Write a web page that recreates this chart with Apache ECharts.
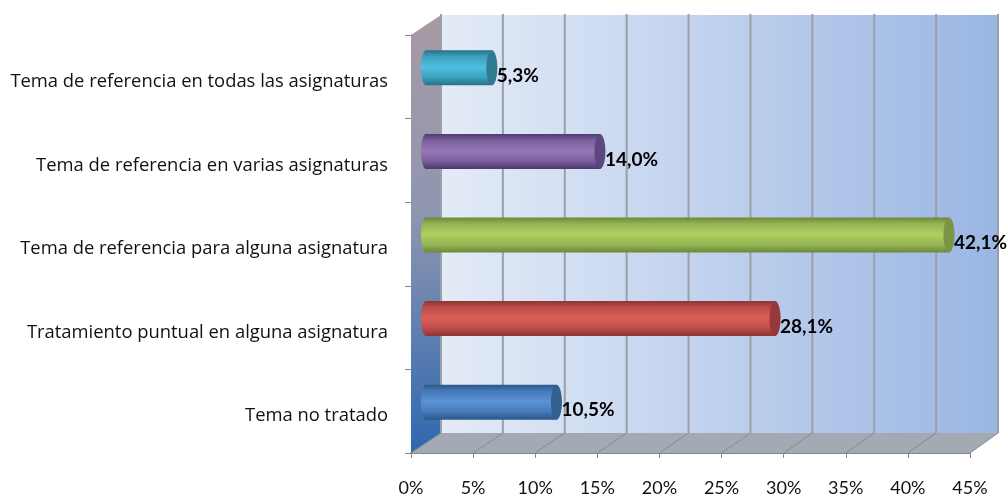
<!DOCTYPE html>
<html>
<head>
<meta charset="utf-8">
<style>
  html, body { margin: 0; padding: 0; background: #fff; }
  #chart { width: 1008px; height: 496px; }
</style>
<script src="https://cdn.jsdelivr.net/npm/echarts@6/dist/echarts.min.js"></script>
</head>
<body>
<div id="chart"></div>
<script>
var categories = ['Tema no tratado', 'Tratamiento puntual en alguna asignatura', 'Tema de referencia para alguna asignatura', 'Tema de referencia en varias asignaturas', 'Tema de referencia en todas las asignaturas'];
var values = [10.5, 28.1, 42.1, 14.0, 5.3];
var xTicks = [0, 5, 10, 15, 20, 25, 30, 35, 40, 45];

// edge, middle, shoulder, cap
var barColors = [
  ['#2b5688', '#5b93d8', '#4579b8', '#33608f'],
  ['#8c3634', '#dc5f5b', '#bd4b48', '#96393a'],
  ['#6d8837', '#b0d060', '#94b354', '#7a9644'],
  ['#4f3870', '#9678b8', '#7a5f9b', '#5e4680'],
  ['#277189', '#50c0e0', '#3ca0be', '#2f7c92']
];

var depthX = 30, depthY = 20, barR = 17.5, capR = 5;

function vGrad(stops) {
  return new echarts.graphic.LinearGradient(0, 0, 0, 1, stops);
}

function renderRoom(params, api) {
  var cs = params.coordSys;
  var left = cs.x, right = cs.x + cs.width, top = cs.y, bottom = cs.y + cs.height;
  var kids = [];
  function backX(v) { return api.coord([v, 0])[0] + depthX - v * 2 / 45; }
  var bl = backX(0), br = backX(45);
  kids.push({ type: 'rect', shape: { x: bl, y: top - depthY, width: br - bl, height: cs.height },
    style: { fill: new echarts.graphic.LinearGradient(0, 0, 1, 0, [{ offset: 0, color: '#e4ebf7' }, { offset: 1, color: '#9ab6e3' }]) } });
  kids.push({ type: 'polygon', shape: { points: [[left, bottom], [right, bottom], [br, bottom - depthY], [bl, bottom - depthY]] },
    style: { fill: '#a4aab4' } });
  kids.push({ type: 'polygon', shape: { points: [[left, top], [bl, top - depthY], [bl, bottom - depthY], [left, bottom]] },
    style: { fill: vGrad([{ offset: 0, color: '#a89aa4' }, { offset: 0.45, color: '#8f96b0' }, { offset: 1, color: '#2f68b0' }]) } });
  xTicks.forEach(function (v) {
    var fx = api.coord([v, 0])[0], bx = backX(v);
    kids.push({ type: 'line', shape: { x1: bx, y1: top - depthY - 1, x2: bx, y2: bottom - depthY },
      style: { stroke: '#9b9fa8', lineWidth: 2 } });
    kids.push({ type: 'line', shape: { x1: fx, y1: bottom, x2: bx, y2: bottom - depthY },
      style: { stroke: '#868b94', lineWidth: 1 } });
  });
  return { type: 'group', children: kids };
}

function renderBar(params, api) {
  var v = api.value(0), i = api.value(1);
  var start = api.coord([0, i]), end = api.coord([v, i]);
  var cy = start[1] - depthY / 2 + 1;
  var x0 = start[0] + depthX / 2, x1 = end[0] + depthX / 2;
  var c = barColors[i];
  var fill = vGrad([{ offset: 0, color: c[0] }, { offset: 0.18, color: c[2] }, { offset: 0.48, color: c[1] }, { offset: 0.78, color: c[2] }, { offset: 1, color: c[0] }]);
  return { type: 'group', children: [
    { type: 'ellipse', shape: { cx: x0, cy: cy, rx: capR, ry: barR }, style: { fill: fill } },
    { type: 'rect', shape: { x: x0, y: cy - barR, width: x1 - x0, height: barR * 2 }, style: { fill: fill } },
    { type: 'ellipse', shape: { cx: x1, cy: cy, rx: capR + 0.5, ry: barR }, style: { fill: c[3] } },
    { type: 'text', x: x1 + capR, y: cy + 8, style: { text: v.toFixed(1).replace('.', ',') + '%',
      font: 'bold 19px Lato', fill: '#000', verticalAlign: 'middle', align: 'left' } }
  ] };
}

var chart = echarts.init(document.getElementById('chart'), null, { renderer: 'canvas' });
chart.setOption({
  animation: false,
  backgroundColor: '#fff',
  grid: { left: 411, right: 38, top: 35, bottom: 43, containLabel: false, outerBoundsMode: 'none' },
  xAxis: {
    type: 'value', min: 0, max: 45, interval: 5,
    splitLine: { show: false },
    axisLine: { show: true, lineStyle: { color: '#868686', width: 2 } },
    axisTick: { show: true, length: 5, lineStyle: { color: '#868686' } },
    axisLabel: { formatter: '{value}%', margin: 26, color: '#111', fontFamily: 'Lato', fontSize: 18 }
  },
  yAxis: {
    type: 'category', data: categories,
    axisLine: { show: true, lineStyle: { color: '#868686' } },
    axisTick: { show: true, length: 6, lineStyle: { color: '#868686' } },
    axisLabel: { interval: 0, margin: 23, verticalAlign: 'top', lineHeight: 10, color: '#111', fontFamily: 'Open Sans', fontSize: 18.4 }
  },
  series: [
    { type: 'custom', silent: true, z: 1, renderItem: renderRoom, data: [[0, 0]], encode: { x: 0, y: 1 }, clip: false },
    { type: 'custom', silent: true, z: 3, renderItem: renderBar, clip: false, encode: { x: 0, y: 1 },
      data: values.map(function (v, i) { return [v, i]; }) }
  ]
});
window.onresize = function () { chart.resize(); };
</script>
</body>
</html>
